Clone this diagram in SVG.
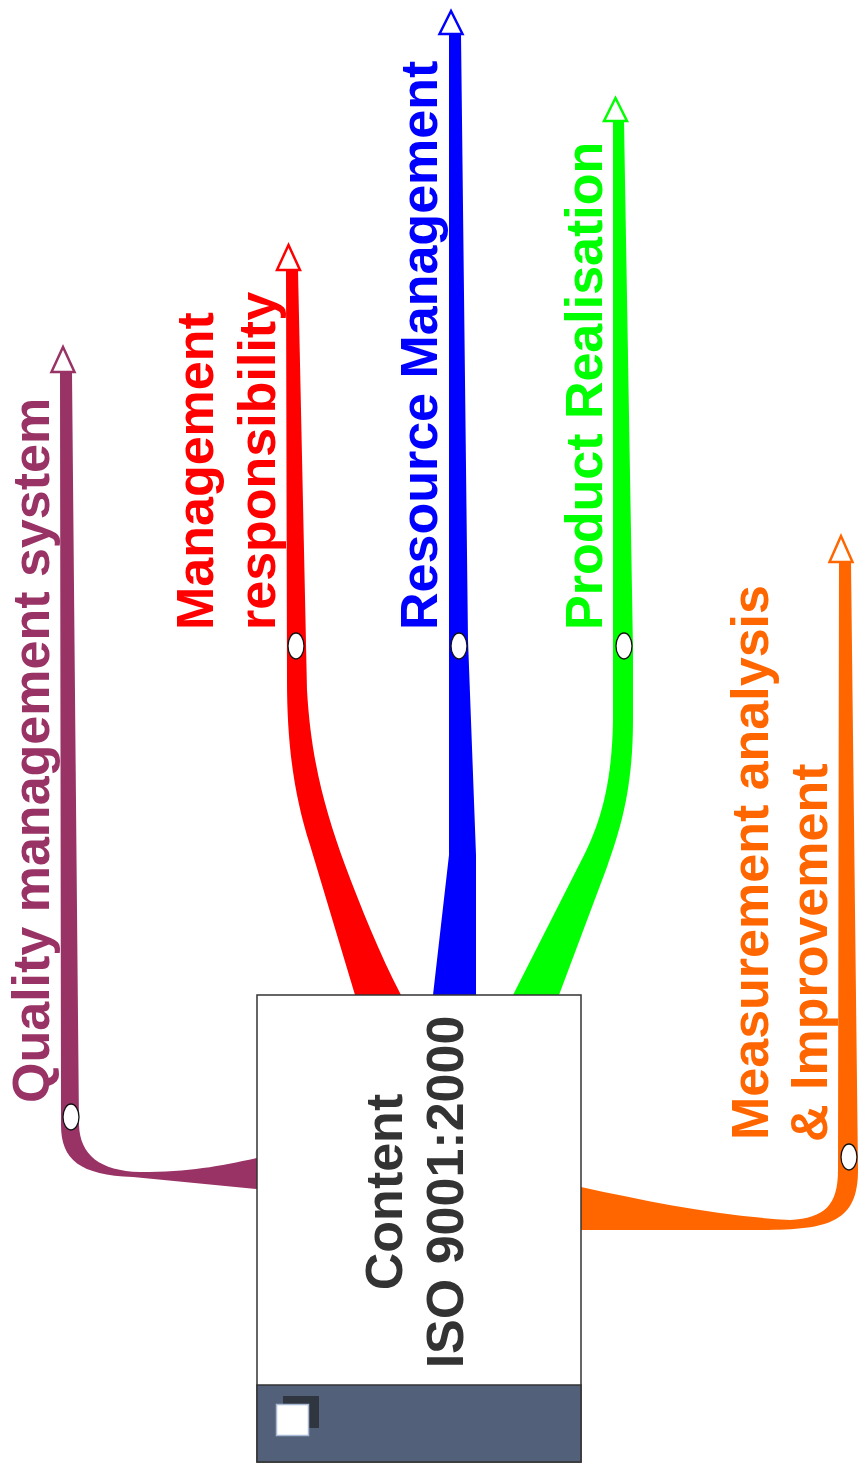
<svg xmlns="http://www.w3.org/2000/svg" width="859" height="1473" viewBox="0 0 859 1473">
  <style>
    .lbl { font-family: "Liberation Sans", Arial, sans-serif; font-weight: bold; font-size: 52px; }
    .knob { fill: #ffffff; stroke: #111111; stroke-width: 1.3; }
    .head { fill: #ffffff; stroke-width: 2.5; stroke-linejoin: miter; }
  </style>
  <rect width="859" height="1473" fill="#ffffff"/>

  <!-- tapered branches from the central topic -->
  <g id="connectors">
    <path id="br-quality" fill="#993366" d="M 60,372 L 61,1125 C 61,1160 80,1175 133,1177 L 257,1189 L 257,1158 C 220,1166 190,1172 140,1172 C 100,1171 80,1155 79,1125 L 72,372 Z"/>
    <path id="br-mgmt" fill="#ff0000" d="M 286,270 L 287,680 C 287,745 294,795 310,845 L 355,995 L 401,995 C 380,955 360,905 345,865 C 325,810 311,760 307,690 L 298,270 Z"/>
    <path id="br-resource" fill="#0000ff" d="M 449,34 L 449,855 L 433,995 L 476,995 L 476,855 L 468,640 L 461,34 Z"/>
    <path id="br-product" fill="#00ff00" d="M 613,121 L 613,720 C 612,790 598,830 578,867 L 513,995 L 559,995 L 607,867 C 620,830 633,790 633,720 L 633,650 L 624,121 Z"/>
    <path id="br-measure" fill="#ff6600" d="M 839,562 L 838,1170 C 838,1205 825,1218 790,1220 C 720,1216 650,1202 581,1187 L 581,1230 L 760,1230 C 830,1230 858,1222 858,1170 L 851,562 Z"/>

    <!-- open arrowheads at branch ends -->
    <polygon class="head" stroke="#993366" points="63,347 51.5,372 74.5,372"/>
    <polygon class="head" stroke="#ff0000" points="288.5,245 277,270 300,270"/>
    <polygon class="head" stroke="#0000ff" points="451,11 439.5,34 462.5,34"/>
    <polygon class="head" stroke="#00ff00" points="615.5,98 604,121 627,121"/>
    <polygon class="head" stroke="#ff6600" points="841,536 829.5,562 852.5,562"/>

    <!-- branch joints -->
    <ellipse class="knob" cx="71" cy="1117" rx="8" ry="13"/>
    <ellipse class="knob" cx="296" cy="646" rx="8" ry="13"/>
    <ellipse class="knob" cx="459" cy="646" rx="8" ry="13"/>
    <ellipse class="knob" cx="624" cy="646" rx="8" ry="13"/>
    <ellipse class="knob" cx="849" cy="1157" rx="8" ry="13"/>
  </g>

  <!-- central topic -->
  <g id="node-central">
    <rect x="257" y="995" width="324" height="467" fill="#ffffff" stroke="#333333" stroke-width="1.5"/>
    <rect x="257" y="1385" width="324" height="77" fill="#526079" stroke="#333333" stroke-width="1.5"/>
    <rect x="283" y="1396" width="36" height="32" fill="#30363f"/>
    <rect x="276.5" y="1404.5" width="32" height="31" fill="#ffffff" stroke="#a9b8d4" stroke-width="1.5"/>
    <text class="lbl" fill="#333333" text-anchor="middle" transform="translate(402,1192) rotate(-90)">Content</text>
    <text class="lbl" fill="#333333" text-anchor="middle" transform="translate(463,1192) rotate(-90)">ISO 9001:2000</text>
  </g>

  <g id="node-quality">
    <text class="lbl" fill="#993366" transform="translate(49,1103) rotate(-90)">Quality management system</text>
  </g>

  <g id="node-mgmt">
    <text class="lbl" fill="#ff0000" transform="translate(213,630) rotate(-90)">Management</text>
    <text class="lbl" fill="#ff0000" transform="translate(275,630) rotate(-90)">responsibility</text>
  </g>

  <g id="node-resource">
    <text class="lbl" fill="#0000ff" transform="translate(437,630) rotate(-90)">Resource Management</text>
  </g>

  <g id="node-product">
    <text class="lbl" fill="#00ff00" transform="translate(602,630) rotate(-90)">Product Realisation</text>
  </g>

  <g id="node-measure">
    <text class="lbl" fill="#ff6600" transform="translate(768,1140) rotate(-90)">Measurement analysis</text>
    <text class="lbl" fill="#ff6600" transform="translate(827,1142) rotate(-90)">&amp; Improvement</text>
  </g>
</svg>
